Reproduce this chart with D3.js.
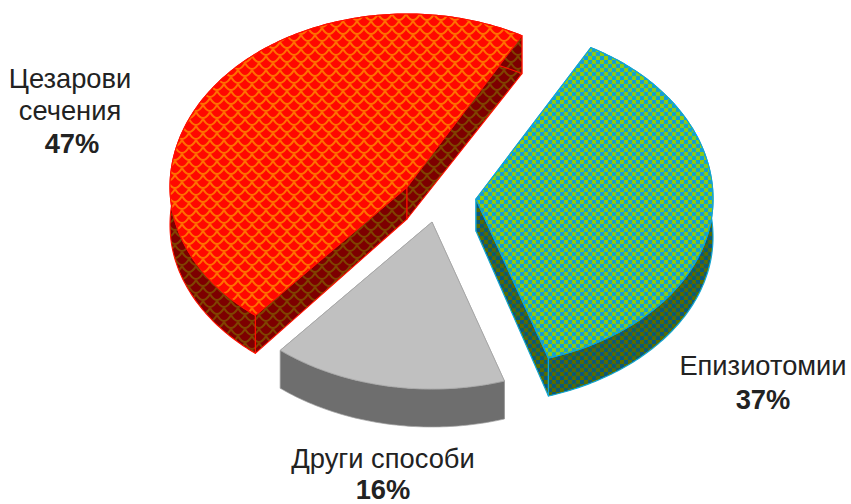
<!DOCTYPE html>
<html><head><meta charset="utf-8">
<script src="https://cdn.jsdelivr.net/npm/d3@7"></script>
<style>html,body{margin:0;background:#fff}svg{display:block}text{font-family:"Liberation Sans",Arial,sans-serif;fill:#222}</style>
</head><body><svg id="c" width="851" height="504"></svg>
<script>
const categories=["Епизиотомии","Други способи","Цезарови сечения"];
const values=[37,16,47];
const labelLines=[["Епизиотомии"],["Други способи"],["Цезарови","сечения"]];
const percentLabels=["37%","16%","47%"];

const W=851,H=504,rx=237,ryBack=173,ryFront=167,depth=38,apexDepth=32;
const centers=[[476,199],[432,222],[407,187]];
const labelPos=[[763,375],[383,468],[70,88]];
const percentDy=[34,31,33];
const svg=d3.select("#c");
const defs=svg.append("defs");
function scales(id,bg,fg){
  const p=defs.append("pattern").attr("id",id).attr("patternUnits","userSpaceOnUse").attr("width",14).attr("height",14);
  p.append("rect").attr("width",14).attr("height",14).attr("fill",bg);
  p.append("path").attr("fill","none").attr("stroke",fg).attr("stroke-width",2)
   .attr("d","M0 0Q7 12 14 0M-7 7Q0 19 7 7M7 7Q14 19 21 7M-7 -7Q0 5 7 -7M7 -7Q14 5 21 -7");
}
function checks(id,a,b){
  const p=defs.append("pattern").attr("id",id).attr("patternUnits","userSpaceOnUse").attr("width",8).attr("height",8);
  p.append("rect").attr("width",8).attr("height",8).attr("fill",a);
  p.append("rect").attr("width",4).attr("height",4).attr("fill",b);
  p.append("rect").attr("x",4).attr("y",4).attr("width",4).attr("height",4).attr("fill",b);
}
scales("redTop","#ff0800","#ff7000");
scales("redSide","#7d0000","#7f4400");
checks("greenTop","#8ccb14","#149fd2");
checks("greenSide","#566c00","#0b5878");
const styles=[
 {top:"url(#greenTop)",side:"url(#greenSide)",stroke:"#14a5cf",w:1.2},
 {top:"#c0c0c0",side:"#6e6e6e",stroke:"#a4a4a4",w:0.7},
 {top:"url(#redTop)",side:"url(#redSide)",stroke:"#ff1000",w:1.1}];
const toRad=d3.scaleLinear().domain([0,360]).range([0,2*Math.PI]);
const pie=d3.pie().sort(null).startAngle(toRad(29)).endAngle(toRad(389));
const arcs=pie(values);
const line=d3.line();
arcs.forEach((d,i)=>{
  const [cx,cy]=centers[i],s=styles[i];
  const n=Math.ceil((d.endAngle-d.startAngle)*60);
  const rim=d3.range(n+1).map(k=>{
    const a=d.startAngle+(d.endAngle-d.startAngle)*k/n,c=Math.cos(a);
    return [cx+rx*Math.sin(a),cy-(c>0?ryBack:ryFront)*c];});
  const down=p=>[p[0],p[1]+depth];
  const g=svg.append("g").attr("stroke",s.stroke).attr("stroke-width",s.w).attr("stroke-linejoin","round");
  const wall=pts=>g.append("path").attr("fill",s.side).attr("d",line(pts)+"Z");
  wall([[cx,cy],rim[0],down(rim[0]),[cx,cy+apexDepth]]);
  wall([[cx,cy],rim[n],down(rim[n]),[cx,cy+apexDepth]]);
  wall(rim.concat(rim.map(down).reverse()));
  g.append("path").attr("fill",s.top).attr("d",line([[cx,cy],...rim])+"Z");
});
arcs.forEach((d,i)=>{
  const [x,y]=labelPos[i];
  const n=labelLines[i].length;
  const t=svg.append("text").attr("text-anchor","middle").attr("font-size",27.3);
  labelLines[i].forEach((l,k)=>t.append("tspan").attr("x",x).attr("y",y+k*32).text(l));
  t.append("tspan").attr("x",x+(i===2?2:0)).attr("y",y+(n-1)*32+percentDy[i]).attr("font-weight","bold").text(percentLabels[i]);
});
</script></body></html>
